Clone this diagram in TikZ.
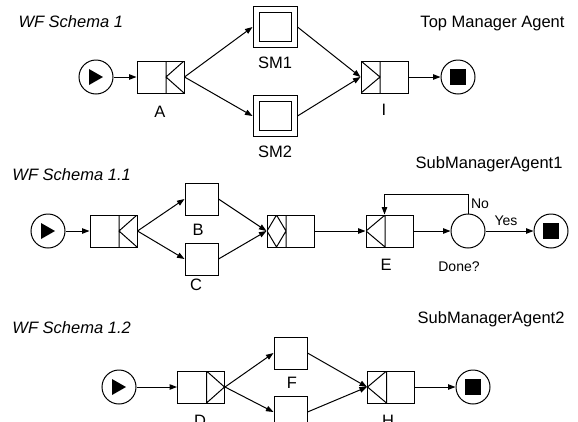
\documentclass[tikz,border=0pt]{standalone}
\usepackage{fontspec}
\setmainfont{Liberation Sans}
\usetikzlibrary{arrows.meta,calc}
\begin{document}
\begin{tikzpicture}[x=1pt,y=-1pt,line width=1pt,
  every node/.style={font=\fontsize{16.5}{18}\selectfont},
  arr/.style={-{Triangle[length=7.5pt,width=5.5pt]}},
  txt/.style={inner sep=0pt,text height=11.8pt,text depth=0pt},
  small/.style={inner sep=0pt,text height=10pt,text depth=0pt,font=\fontsize{14}{16}\selectfont},
  ttl/.style={txt,anchor=west,font=\fontsize{16.5}{18}\selectfont\itshape},
  task/.style={draw,rectangle,inner sep=0pt,minimum width=33pt,minimum height=32pt},
  wfbox/.style={draw,rectangle,inner sep=0pt,minimum width=47pt,minimum height=32pt},
  sub/.style={draw,rectangle,inner sep=0pt,minimum width=44pt,minimum height=41pt,
    path picture={\draw ($(path picture bounding box.north west)+(6pt,-6pt)$) rectangle ($(path picture bounding box.south east)+(-6pt,6pt)$);}},
  splitlt/.style={wfbox,path picture={\draw let \p1=(path picture bounding box.north east),\p2=(path picture bounding box.south west) in
    ({\x1-18pt},\y1) -- ({\x1-18pt},\y2) (\x1,\y1) -- ({\x1-18pt},{(\y1+\y2)/2}) -- (\x1,\y2);}},
  splitgt/.style={wfbox,path picture={\draw let \p1=(path picture bounding box.north east),\p2=(path picture bounding box.south west) in
    ({\x1-18pt},\y1) -- ({\x1-18pt},\y2) ({\x1-18pt},\y1) -- (\x1,{(\y1+\y2)/2}) -- ({\x1-18pt},\y2);}},
  joingt/.style={wfbox,path picture={\draw let \p1=(path picture bounding box.south west),\p2=(path picture bounding box.north east) in
    ({\x1+19pt},\y1) -- ({\x1+19pt},\y2) (\x1,\y1) -- ({\x1+19pt},{(\y1+\y2)/2}) -- (\x1,\y2);}},
  joinlt/.style={wfbox,path picture={\draw let \p1=(path picture bounding box.south west),\p2=(path picture bounding box.north east) in
    ({\x1+19pt},\y1) -- ({\x1+19pt},\y2) ({\x1+19pt},\y1) -- (\x1,{(\y1+\y2)/2}) -- ({\x1+19pt},\y2);}},
  joindia/.style={wfbox,path picture={\draw let \p1=(path picture bounding box.south west),\p2=(path picture bounding box.north east) in
    ({\x1+19pt},\y1) -- ({\x1+19pt},\y2) (\x1,{(\y1+\y2)/2}) -- ({\x1+9.5pt},\y1) -- ({\x1+19pt},{(\y1+\y2)/2}) -- ({\x1+9.5pt},\y2) -- cycle;}},
  startev/.style={draw,circle,inner sep=0pt,minimum size=34pt,
    path picture={\fill ($(path picture bounding box.center)+(-7pt,8pt)$) -- ($(path picture bounding box.center)+(-7pt,-8pt)$) -- ($(path picture bounding box.center)+(7pt,0pt)$) -- cycle;}},
  endev/.style={draw,circle,inner sep=0pt,minimum size=34pt,
    path picture={\fill ($(path picture bounding box.center)+(-8pt,-8pt)$) rectangle ($(path picture bounding box.center)+(8pt,8pt)$);}},
  decision/.style={draw,circle,inner sep=0pt,minimum size=34pt}
]
\useasboundingbox (0,0) rectangle (578,421);
\clip (0,0) rectangle (578,421);
% ---------- Row 1
\node[ttl] (t1) at (18,22) {WF Schema 1};
\node[txt,anchor=east] (a1) at (565,22) {Top Manager Agent};
\node[startev] (s1) at (96,77) {};
\node[splitlt] (A) at (160.5,77) {};
\node[sub] (SM1) at (275,27) {};
\node[sub] (SM2) at (275,116) {};
\node[joingt] (I) at (384.5,77) {};
\node[endev] (e1) at (458,77) {};
\node[txt] (lA) at (160,112) {A};
\node[txt] (lSM1) at (275,63) {SM1};
\node[txt] (lSM2) at (275,152) {SM2};
\node[txt] (lI) at (384,110) {I};
\draw[arr] (s1) -- (A);
\draw[arr] (A.east) -- (SM1.west);
\draw[arr] (A.east) -- (SM2.west);
\draw[arr] (SM1.east) -- (I.west);
\draw[arr] (SM2.east) -- (I.west);
\draw[arr] (I) -- (e1);
% ---------- Row 2
\node[ttl] (t2) at (12,175) {WF Schema 1.1};
\node[txt,anchor=east] (a2) at (563,163) {SubManagerAgent1};
\node[startev] (s2) at (48,231) {};
\node[splitlt] (K) at (113.5,231) {};
\node[task] (B) at (201.5,199) {};
\node[task] (C) at (201.5,259) {};
\node[joindia] (J) at (290.5,231) {};
\node[joinlt] (E) at (389.5,231) {};
\node[decision] (Done) at (468,231) {};
\node[endev] (e2) at (551,231) {};
\node[txt] (lB) at (198,230) {B};
\node[txt] (lC) at (196,285) {C};
\node[txt] (lE) at (386,265) {E};
\node[small] (lDone) at (459,266) {Done?};
\node[small] (lNo) at (480,203) {No};
\node[small] (lYes) at (506,220) {Yes};
\coordinate (Ediv) at ($(E.north west)+(19pt,0pt)$);
\draw[arr] (s2) -- (K);
\draw[arr] (K.east) -- (B.west);
\draw[arr] (K.east) -- (C.west);
\draw[arr] (B.east) -- (J.west);
\draw[arr] (C.east) -- (J.west);
\draw[arr] (J) -- (E);
\draw[arr] (E) -- (Done);
\draw[arr] (Done) -- (e2);
\draw[arr] (Done.north) -- ++(0,-19) -| (Ediv);
% ---------- Row 3
\node[ttl] (t3) at (12,328) {WF Schema 1.2};
\node[txt,anchor=east] (a3) at (565,318) {SubManagerAgent2};
\node[startev] (s3) at (119,387) {};
\node[splitgt] (D) at (201,387) {};
\node[task] (F) at (290.5,353) {};
\node[task] (G) at (290.5,412) {};
\node[joinlt] (H) at (391,387) {};
\node[endev] (e3) at (473,387) {};
\node[txt] (lD) at (200,421) {D};
\node[txt] (lF) at (292,383) {F};
\node[txt] (lH) at (388,421) {H};
\draw[arr] (s3) -- (D);
\draw[arr] (D.east) -- (F.west);
\draw[arr] (D.east) -- (G.west);
\draw[arr] (F.east) -- (H.west);
\draw[arr] (G.east) -- (H.west);
\draw[arr] (H) -- (e3);
\end{tikzpicture}
\end{document}
